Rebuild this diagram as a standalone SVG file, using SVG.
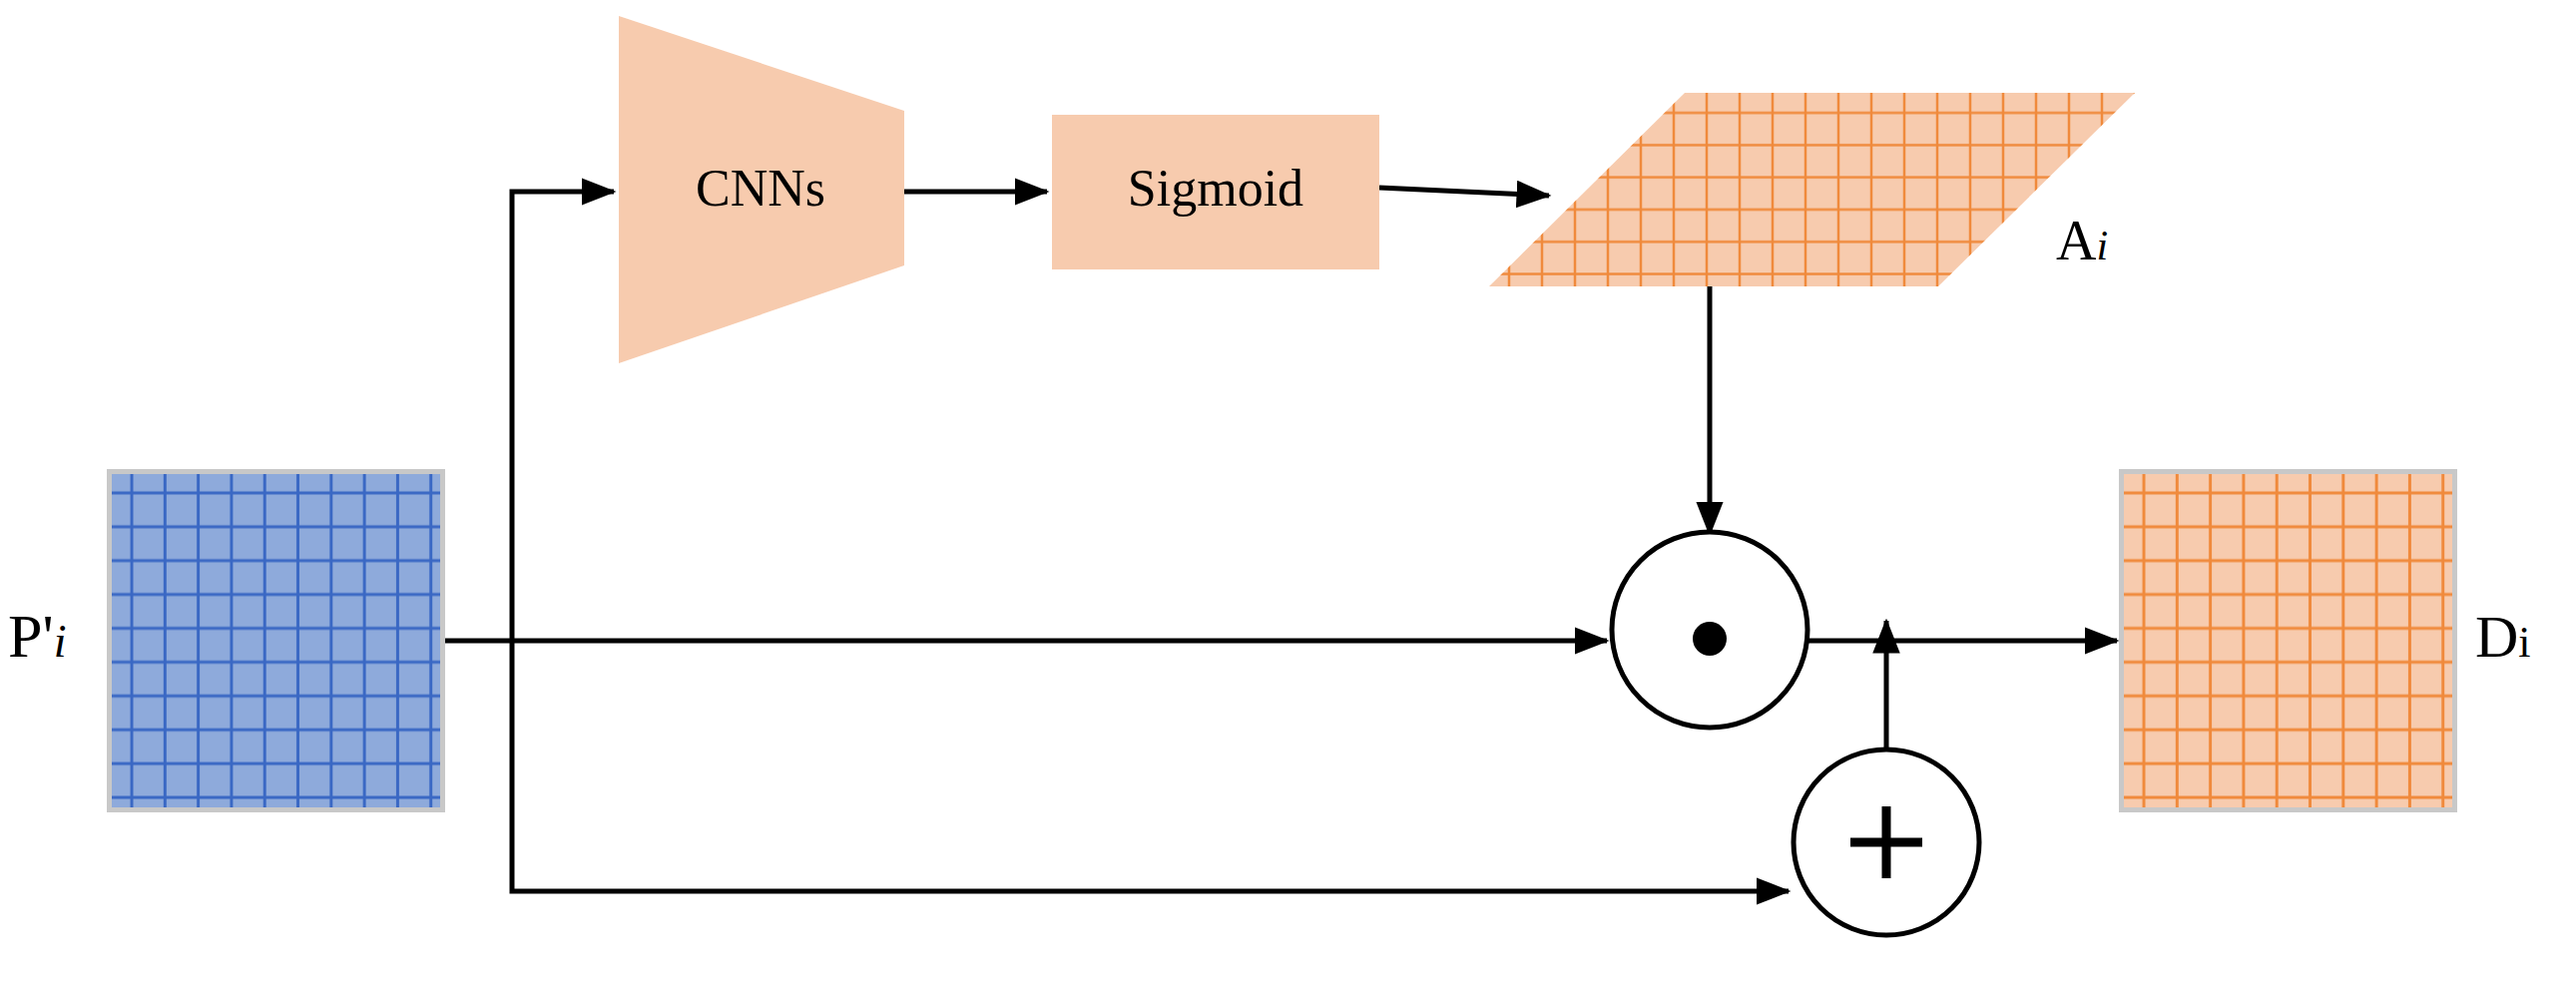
<svg xmlns="http://www.w3.org/2000/svg" width="2581" height="1002" viewBox="0 0 2581 1002">
<defs>
<marker id="ah" markerWidth="7" markerHeight="5.5" refX="6.5" refY="2.75" orient="auto" markerUnits="strokeWidth"><path d="M0,0 L7,2.75 L0,5.5 z" fill="#000"/></marker>
<pattern id="gb" x="110" y="472" width="33.3" height="33.9" patternUnits="userSpaceOnUse"><path d="M22,0V34M0,22H34" stroke="#3a68c4" stroke-width="3" fill="none"/></pattern>
<pattern id="go" x="2126" y="472" width="33.3" height="33.9" patternUnits="userSpaceOnUse"><path d="M22,0V34M0,22H34" stroke="#f08a3c" stroke-width="3" fill="none"/></pattern>
<pattern id="gp" x="1492" y="93" width="33" height="32.3" patternUnits="userSpaceOnUse"><path d="M20,0V33M0,20H33" stroke="#f08a3c" stroke-width="2.5" fill="none"/></pattern>
</defs>
<style>
text{font-family:"Liberation Serif","Times New Roman",serif;fill:#000}
.c{stroke:#000;stroke-width:5;fill:none}
.o{fill:#f7cbae}
</style>
<rect width="2581" height="1002" fill="#fff"/>
<g id="connectors">
<path class="c" d="M443,642H1610" marker-end="url(#ah)"/>
<path class="c" d="M1811,642H2121" marker-end="url(#ah)"/>
<path class="c" d="M513,642V893H1792" marker-end="url(#ah)"/>
<path class="c" d="M513,642V192H615" marker-end="url(#ah)"/>
<path class="c" d="M906,192H1049" marker-end="url(#ah)"/>
<path class="c" d="M1382,188L1552,196" marker-end="url(#ah)"/>
<path class="c" d="M1713,287V535" marker-end="url(#ah)"/>
<path class="c" d="M1890,751V622" marker-end="url(#ah)"/>
</g>
<g id="P">
<rect x="107" y="470" width="339" height="344" fill="#c8c8c8"/>
<rect x="112" y="475" width="329" height="334" fill="#8eaadb"/>
<rect x="112" y="475" width="329" height="334" fill="url(#gb)"/>
<text x="8" y="658" font-size="62">P'<tspan font-style="italic" font-size="46">i</tspan></text>
</g>
<g id="CNN">
<polygon class="o" points="620,16 906,111 906,266 620,364"/>
<text x="762" y="206" font-size="52" text-anchor="middle">CNNs</text>
</g>
<g id="Sigmoid">
<rect class="o" x="1054" y="115" width="328" height="155"/>
<text x="1218" y="206" font-size="52" text-anchor="middle">Sigmoid</text>
</g>
<g id="A">
<polygon class="o" points="1688,93 2139,93 1942,287 1492,287"/>
<polygon points="1688,93 2139,93 1942,287 1492,287" fill="url(#gp)"/>
<text x="2060" y="260" font-size="56">A<tspan font-style="italic" font-size="42">i</tspan></text>
</g>
<g id="mul">
<circle cx="1713" cy="631" r="98" fill="#fff" stroke="#000" stroke-width="5"/>
<circle cx="1713" cy="640" r="17" fill="#000"/>
</g>
<g id="add">
<circle cx="1890" cy="844" r="93" fill="#fff" stroke="#000" stroke-width="5"/>
<path d="M1890,808V880M1854,844H1926" stroke="#000" stroke-width="9"/>
</g>
<g id="D">
<rect x="2123" y="470" width="339" height="344" fill="#c8c8c8"/>
<rect x="2128" y="475" width="329" height="334" fill="#f7cbae"/>
<rect x="2128" y="475" width="329" height="334" fill="url(#go)"/>
<text x="2480" y="658" font-size="60">D<tspan font-size="44">i</tspan></text>
</g>
</svg>
